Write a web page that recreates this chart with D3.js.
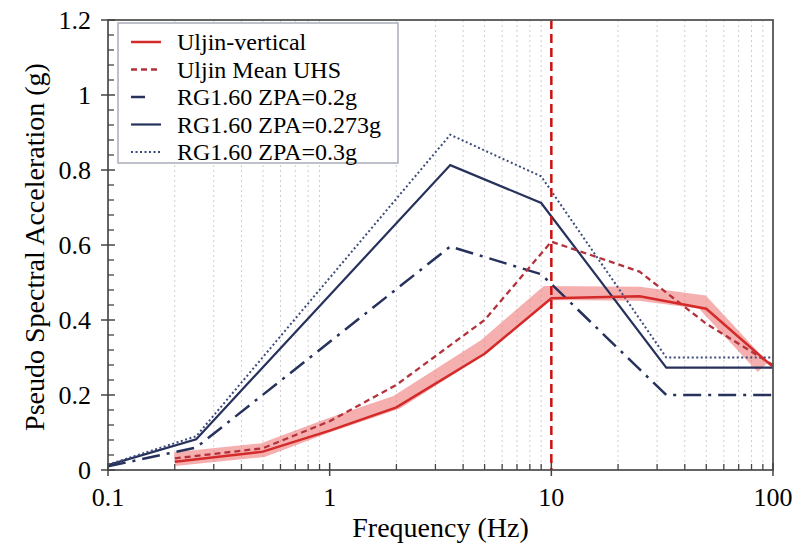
<!DOCTYPE html>
<html>
<head>
<meta charset="utf-8">
<script src="https://cdn.jsdelivr.net/npm/d3@7/dist/d3.min.js"></script>
<style>
  html, body { margin: 0; padding: 0; background: #fff; }
  svg { display: block; }
</style>
</head>
<body>
<svg id="chart" width="796" height="544"></svg>
<script>
// ---- data ----
const xTicks = [0.1, 1, 10, 100];
const xTickLabels = ["0.1", "1", "10", "100"];
const yTicks = [0, 0.2, 0.4, 0.6, 0.8, 1, 1.2];
const yTickLabels = ["0", "0.2", "0.4", "0.6", "0.8", "1", "1.2"];

const freqRG = [0.1, 0.25, 3.5, 9, 33, 100];
const rg020 = [0.0096, 0.06, 0.596, 0.522, 0.2, 0.2];
const rg0273 = [0.013, 0.082, 0.813, 0.712, 0.273, 0.273];
const rg030 = [0.0144, 0.09, 0.894, 0.783, 0.3, 0.3];

const freqUljin = [0.2, 0.5, 1, 2, 5, 10, 25, 50, 100];
const uljinVertical = [0.022, 0.049, 0.105, 0.167, 0.31, 0.458, 0.463, 0.43, 0.275];
const meanUHS = [0.031, 0.058, 0.13, 0.227, 0.4, 0.609, 0.529, 0.39, 0.28];

const freqBand = [0.2, 0.5, 1, 2, 5, 9.5, 25, 48, 90];
const bandCenter = [0.029, 0.053, 0.12, 0.18, 0.33, 0.472, 0.47, 0.448, 0.274];

const legendLabels = ["Uljin-vertical", "Uljin Mean UHS", "RG1.60 ZPA=0.2g", "RG1.60 ZPA=0.273g", "RG1.60 ZPA=0.3g"];
const markerFreq = 10;

// ---- layout ----
const FONT = "'Liberation Serif', 'Times New Roman', Times, 'DejaVu Serif', serif";
const TXT = "#000";
const L = 108, R = 773, T = 20, B = 470;
const svg = d3.select("#chart").attr("font-family", FONT);
const x = d3.scaleLog().domain([0.1, 100]).range([L, R]);
const y = d3.scaleLinear().domain([0, 1.2]).range([B, T]);

const navy = "#26315c";
const styles = [
  { color: "#d42a2a", width: 2.5, dash: null },
  { color: "#b3323c", width: 2.3, dash: "6,4" },
  { color: navy, width: 2.5, dash: "18,7,3,7" },
  { color: navy, width: 2.2, dash: null },
  { color: "#3d4b7c", width: 2, dash: "2,2.5" }
];

const minors = [];
[0.1, 1, 10].forEach(d => { for (let k = 2; k <= 9; k++) minors.push(d * k); });

svg.append("g").selectAll("line").data(minors).join("line")
  .attr("x1", d => x(d)).attr("x2", d => x(d))
  .attr("y1", T).attr("y2", B)
  .attr("stroke", "#cfcfcf").attr("stroke-width", 1).attr("stroke-dasharray", "2,3");

const line = d3.line().x(d => x(d[0])).y(d => y(d[1]));
const zip = (a, b) => a.map((v, i) => [v, b[i]]);

svg.append("path").datum(zip(freqBand, bandCenter)).attr("d", line)
  .attr("fill", "none").attr("stroke", "#f07a7a").attr("stroke-opacity", 0.6)
  .attr("stroke-width", 14).attr("stroke-linejoin", "miter").attr("stroke-linecap", "butt");

const series = [
  { f: freqUljin, v: uljinVertical, s: styles[0] },
  { f: freqUljin, v: meanUHS, s: styles[1] },
  { f: freqRG, v: rg020, s: styles[2] },
  { f: freqRG, v: rg0273, s: styles[3] },
  { f: freqRG, v: rg030, s: styles[4] }
];
[2, 3, 4, 1, 0].forEach(i => {
  const s = series[i];
  svg.append("path").datum(zip(s.f, s.v)).attr("d", line)
    .attr("fill", "none").attr("stroke", s.s.color).attr("stroke-width", s.s.width)
    .attr("stroke-dasharray", s.s.dash);
});

svg.append("line").attr("x1", x(markerFreq)).attr("x2", x(markerFreq))
  .attr("y1", T).attr("y2", B)
  .attr("stroke", "#cc1111").attr("stroke-width", 2.5).attr("stroke-dasharray", "9,5");

const lg = svg.append("g");
lg.append("rect").attr("x", 118).attr("y", 23).attr("width", 280).attr("height", 140)
  .attr("fill", "#fff").attr("stroke", "#a9adb8").attr("stroke-width", 1.5);
legendLabels.forEach((lab, i) => {
  const cy = 42 + i * 27.5;
  const s = styles[i];
  lg.append("line").attr("x1", 131).attr("x2", 161).attr("y1", cy).attr("y2", cy)
    .attr("stroke", s.color).attr("stroke-width", s.width)
    .attr("stroke-dasharray", i === 2 ? "14,20" : s.dash);
  lg.append("text").attr("x", 177).attr("y", cy).attr("dy", "0.35em")
    .attr("font-family", FONT).attr("fill", TXT)
    .attr("font-size", 24).text(lab);
});

svg.append("rect").attr("x", L).attr("y", T).attr("width", R - L).attr("height", B - T)
  .attr("fill", "none").attr("stroke", "#555").attr("stroke-width", 1.8);

const ax = svg.append("g");
ax.selectAll(".maj").data(xTicks).join("line")
  .attr("x1", d => x(d)).attr("x2", d => x(d)).attr("y1", B - 7).attr("y2", B + 6)
  .attr("stroke", "#444").attr("stroke-width", 1.5);
ax.selectAll(".min").data(minors).join("line")
  .attr("x1", d => x(d)).attr("x2", d => x(d)).attr("y1", B - 6).attr("y2", B)
  .attr("stroke", "#444").attr("stroke-width", 1.3);
ax.selectAll("text").data(xTicks).join("text")
  .attr("x", d => x(d)).attr("y", B + 27).attr("dy", "0.35em").attr("text-anchor", "middle")
  .attr("font-family", FONT).attr("fill", TXT)
  .attr("font-size", 26).text((d, i) => xTickLabels[i]);

const yMinors = d3.range(0, 1.2001, 0.04).filter(v => Math.abs(v * 5 - Math.round(v * 5)) > 1e-6);
const ayg = svg.append("g");
ayg.selectAll(".maj").data(yTicks).join("line")
  .attr("x1", L - 7).attr("x2", L + 7).attr("y1", d => y(d)).attr("y2", d => y(d))
  .attr("stroke", "#444").attr("stroke-width", 1.5);
ayg.selectAll(".min").data(yMinors).join("line")
  .attr("x1", L).attr("x2", L + 6).attr("y1", d => y(d)).attr("y2", d => y(d))
  .attr("stroke", "#444").attr("stroke-width", 1.3);
ayg.selectAll("text").data(yTicks).join("text")
  .attr("x", L - 17).attr("y", d => y(d)).attr("dy", "0.35em").attr("text-anchor", "end")
  .attr("font-family", FONT).attr("fill", TXT)
  .attr("font-size", 26).text((d, i) => yTickLabels[i]);

svg.append("text").attr("x", (L + R) / 2).attr("y", 527).attr("dy", "0.35em")
  .attr("text-anchor", "middle").attr("font-size", 28).attr("font-family", FONT).attr("fill", TXT)
  .text("Frequency (Hz)");
svg.append("text").attr("transform", `translate(34,${(T + B) / 2 + 2}) rotate(-90)`)
  .attr("dy", "0.35em").attr("text-anchor", "middle").attr("font-size", 28)
  .attr("font-family", FONT).attr("fill", TXT)
  .text("Pseudo Spectral Acceleration (g)");
</script>
</body>
</html>
